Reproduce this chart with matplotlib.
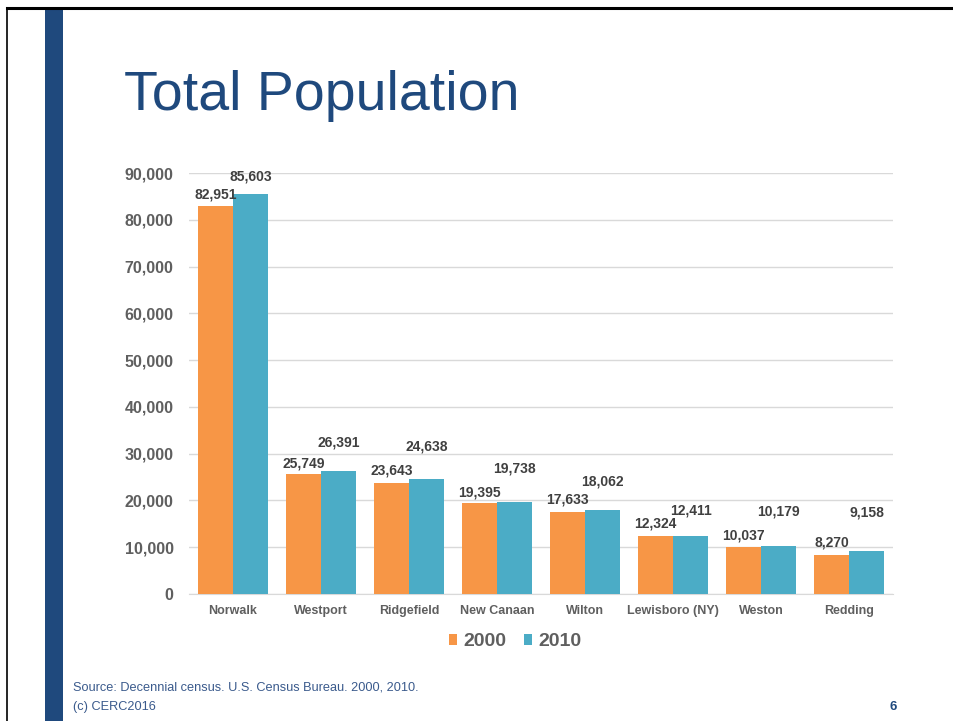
import matplotlib
matplotlib.use("Agg")
import matplotlib.pyplot as plt
from matplotlib.patches import Rectangle
from matplotlib.lines import Line2D
import numpy as np

towns = ["Norwalk", "Westport", "Ridgefield", "New Canaan", "Wilton",
         "Lewisboro (NY)", "Weston", "Redding"]
pop_2000 = [82951, 25749, 23643, 19395, 17633, 12324, 10037, 8270]
pop_2010 = [85603, 26391, 24638, 19738, 18062, 12411, 10179, 9158]
years = ["2000", "2010"]
y_ticks = [0, 10000, 20000, 30000, 40000, 50000, 60000, 70000, 80000, 90000]

# vertical offsets (points) of the value labels above each bar
lift_2000 = [8, 7, 9, 8, 9, 9, 8, 9]
lift_2010 = [12, 20, 23, 24, 20, 18, 25, 28]

ORANGE = "#F79646"
TEAL = "#4BACC6"
NAVY = "#1F497D"
GRID = "#D9D9D9"
TICK = "#5F5F5F"
LABEL = "#404040"
FOOT = "#3A5A8C"

W, H = 954, 721
fig = plt.figure(figsize=(W / 100, H / 100), dpi=100)
fig.patch.set_facecolor("white")

# slide frame and accent stripe
fig.add_artist(Line2D([7 / W, 1], [1 - 8 / H, 1 - 8 / H], color="black", lw=2.2,
                      transform=fig.transFigure))
fig.add_artist(Line2D([7 / W, 7 / W], [0, 1 - 8 / H], color="black", lw=1.2,
                      transform=fig.transFigure))
fig.add_artist(Rectangle((45 / W, 0), 18 / W, 1 - 10 / H, color=NAVY,
                         transform=fig.transFigure, lw=0))

fig.text(124 / W, 1 - 110 / H, "Total Population", color=NAVY, fontsize=40,
         family="Liberation Sans", va="baseline", ha="left")

ax = fig.add_axes([189 / W, (H - 594) / H, (893 - 189) / W, (594 - 173) / H])
x = np.arange(len(towns))
bw = 0.4
b1 = ax.bar(x - bw / 2, pop_2000, bw, color=ORANGE, label=years[0], zorder=3)
b2 = ax.bar(x + bw / 2, pop_2010, bw, color=TEAL, label=years[1], zorder=3)

for bars, vals, lifts in ((b1, pop_2000, lift_2000), (b2, pop_2010, lift_2010)):
    for r, v, d in zip(bars, vals, lifts):
        ax.annotate(f"{v:,}", (r.get_x() + r.get_width() / 2, v),
                    xytext=(0, d), textcoords="offset points", ha="center",
                    va="center", fontsize=10, fontweight="bold", color=LABEL,
                    family="Liberation Sans")

ax.set_xlim(-0.5, len(towns) - 0.5)
ax.set_ylim(0, 90000)
ax.set_yticks(y_ticks)
ax.set_yticklabels([f"{t:,}" for t in y_ticks])
ax.set_xticks(x)
ax.set_xticklabels(towns)
ax.yaxis.grid(True, color=GRID, lw=1.0, zorder=0)
for s in ("top", "right", "left"):
    ax.spines[s].set_visible(False)
ax.spines["bottom"].set_color(GRID)
ax.tick_params(axis="both", length=0)
ax.tick_params(axis="y", pad=11, labelsize=11.5, labelcolor=TICK)
ax.tick_params(axis="x", pad=8, labelsize=9, labelcolor=TICK)
for lab in ax.get_yticklabels() + ax.get_xticklabels():
    lab.set_family("Liberation Sans")
    lab.set_fontweight("bold")

leg = fig.legend(handles=[b1, b2], labels=years, loc="center",
                 bbox_to_anchor=(515 / W, 1 - 642 / H), ncol=2, frameon=False,
                 handlelength=0.45, handleheight=0.45, handletextpad=0.3,
                 columnspacing=0.9,
                 prop={"family": "Liberation Sans", "size": 14, "weight": "bold"})
for t in leg.get_texts():
    t.set_color(TICK)

fig.text(73 / W, 1 - 688 / H, "Source: Decennial census. U.S. Census Bureau. 2000, 2010.",
         color=FOOT, fontsize=9.2, family="Liberation Sans", va="center")
fig.text(73 / W, 1 - 707 / H, "(c) CERC2016", color=FOOT, fontsize=9.2,
         family="Liberation Sans", va="center")
fig.text(893 / W, 1 - 707 / H, "6", color=NAVY, fontsize=9.5, fontweight="bold",
         family="Liberation Sans", va="center", ha="center")

fig.savefig("out.png", dpi=100, facecolor="white")
